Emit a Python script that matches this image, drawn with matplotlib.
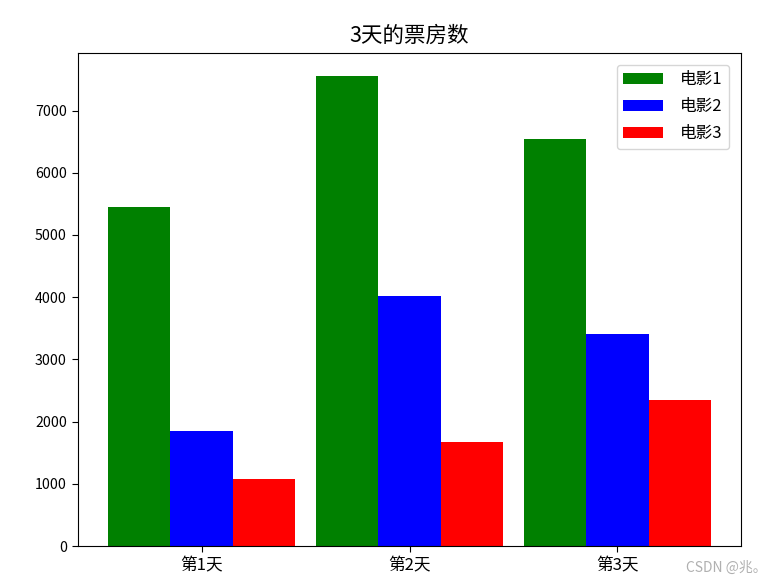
import matplotlib
matplotlib.use("Agg")
import matplotlib.pyplot as plt
import numpy as np

plt.rcParams['font.family'] = ['Noto Sans CJK SC', 'DejaVu Sans']
plt.rcParams['axes.unicode_minus'] = False

days = ['第1天', '第2天', '第3天']
movie1 = [5453, 7548, 6543]
movie2 = [1855, 4013, 3410]
movie3 = [1080, 1673, 2340]
series_names = ['电影1', '电影2', '电影3']
colors = ['green', 'blue', 'red']

fig = plt.figure(figsize=(7.78, 5.85), dpi=100)
ax = fig.add_axes([78/778, 1-546/585, (741-78)/778, (546-53)/585])

x = np.arange(len(days))
w = 0.3
for i, (vals, name, c) in enumerate(zip([movie1, movie2, movie3], series_names, colors)):
    ax.bar(x + (i - 1) * w, vals, width=w, color=c, label=name)

ax.set_xticks(x)
ax.set_xticklabels(days)
ax.tick_params(axis='x', labelsize=12)
ax.tick_params(axis='y', labelsize=10.2)
ax.tick_params(length=4.5)
ax.set_title('3天的票房数', fontsize=15.5, pad=8)
ax.legend(loc='upper right', fontsize=12, handlelength=2.4, handletextpad=1.0,
          labelspacing=0.6, borderaxespad=0.7)

fig.text(0.985, 0.018, 'CSDN @兆。', ha='right', va='bottom', fontsize=10, color='#b0b0b0')

fig.savefig('out.png', dpi=100)
